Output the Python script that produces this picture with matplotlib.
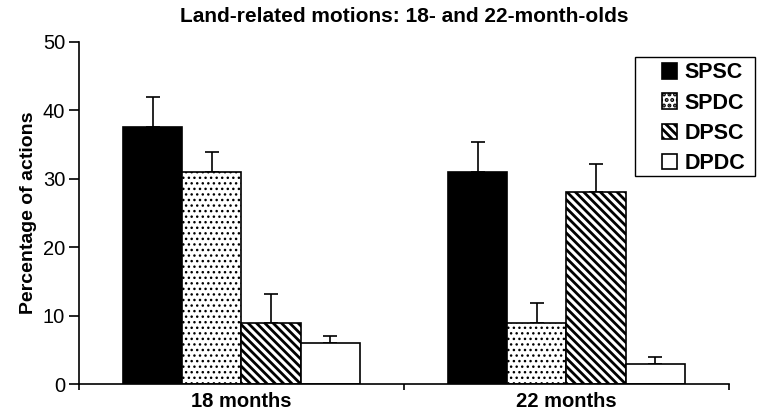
import matplotlib
matplotlib.use("Agg")
import matplotlib.pyplot as plt
from matplotlib.patches import Rectangle
import numpy as np

plt.rcParams['font.family'] = ['Liberation Sans', 'DejaVu Sans']
plt.rcParams['hatch.linewidth'] = 2.0

# Data
groups = ['18 months', '22 months']
conditions = ['SPSC', 'SPDC', 'DPSC', 'DPDC']
means = {
    'SPSC': [37.5, 31.0],
    'SPDC': [31.0, 9.0],
    'DPSC': [9.0, 28.0],
    'DPDC': [6.0, 3.0],
}
errors = {
    'SPSC': [4.4, 4.4],
    'SPDC': [2.9, 2.8],
    'DPSC': [4.2, 4.2],
    'DPDC': [1.0, 1.0],
}

fills = {'SPSC': 'black', 'SPDC': 'white', 'DPSC': 'white', 'DPDC': 'white'}
hatches = {'SPSC': None, 'SPDC': '...', 'DPSC': '\\\\\\\\', 'DPDC': None}

fig = plt.figure(figsize=(7.6, 4.18), dpi=100)
ax = fig.add_axes([0.104, 0.081, 0.855, 0.819])

x = np.arange(len(groups))
width = 0.182
for i, c in enumerate(conditions):
    pos = x + (i - 1.5) * width
    bars = ax.bar(pos, means[c], width, color=fills[c], edgecolor='black',
                  linewidth=1.2, hatch=hatches[c], label=c, zorder=2)
    if c == 'SPDC':
        for b in bars:
            try:
                b.set_hatch_linewidth(1.0)
            except AttributeError:
                pass
    ax.errorbar(pos, means[c], yerr=[np.zeros(len(groups)), errors[c]],
                fmt='none', ecolor='black', elinewidth=1.2, capsize=5,
                capthick=1.2, zorder=1)

ax.set_xlim(-0.5, 1.5)
ax.set_ylim(0, 50)
ax.set_yticks([0, 10, 20, 30, 40, 50])
ax.set_xticks([-0.5, 0.5, 1.5])
ax.set_xticklabels([])
ax.set_xticks(x, minor=True)
ax.set_xticklabels(groups, minor=True, fontweight='bold', fontsize=14.5)
ax.tick_params(axis='x', which='minor', length=0, pad=6)
ax.tick_params(axis='x', which='major', length=4.5, width=1.2, direction='out')
ax.tick_params(axis='y', length=7, width=1.2, labelsize=14.5, pad=3)

for s in ['top', 'right']:
    ax.spines[s].set_visible(False)
for s in ['left', 'bottom']:
    ax.spines[s].set_linewidth(1.2)

ax.set_ylabel('Percentage of actions', fontweight='bold', fontsize=14, labelpad=4)
ax.set_title('Land-related motions: 18- and 22-month-olds', fontweight='bold',
             fontsize=15, pad=14)

# legend without its own frame, boxed by a separate rectangle
leg = fig.legend(loc='upper left', bbox_to_anchor=(662 / 760, 1 - 62.5 / 418),
                 frameon=False, prop={'weight': 'bold', 'size': 15.5},
                 handlelength=0.7, handleheight=0.7, handletextpad=0.35,
                 labelspacing=0.42, borderpad=0, borderaxespad=0)
fig.patches.append(Rectangle((635 / 760, 1 - 176 / 418), 120 / 760, 119 / 418,
                             transform=fig.transFigure, fill=False,
                             edgecolor='black', linewidth=1.0))

fig.savefig('out.png', dpi=100)
